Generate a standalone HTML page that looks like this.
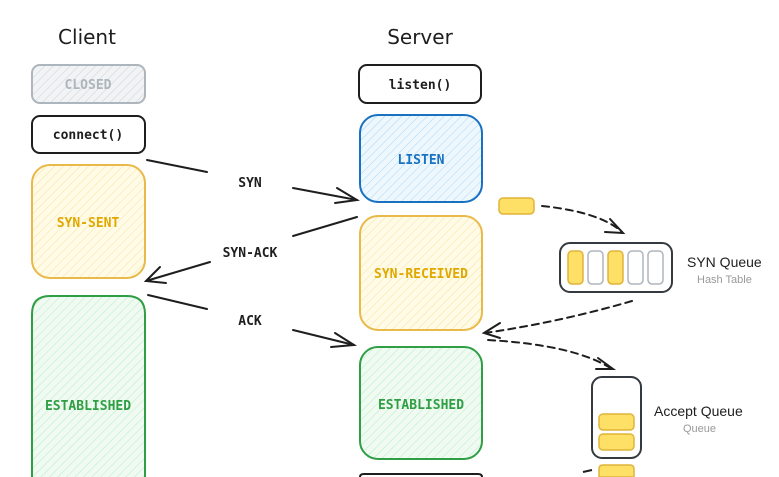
<!DOCTYPE html>
<html><head><meta charset="utf-8"><style>
html,body{margin:0;padding:0;background:#fff;width:779px;height:477px;overflow:hidden;}
svg{display:block;}
.m{font-family:"DejaVu Sans Mono","Liberation Mono",monospace;font-size:13px;font-weight:600;}
.h{font-family:"Liberation Sans",sans-serif;}
</style></head><body>
<svg width="779" height="477" viewBox="0 0 779 477" xmlns="http://www.w3.org/2000/svg">
<defs>
<pattern id="hg" width="6" height="6" patternUnits="userSpaceOnUse" patternTransform="rotate(45)"><rect width="6" height="6" fill="#f1f3f5"/><line x1="0" y1="0" x2="0" y2="6" stroke="#ced4da" stroke-width="1"/></pattern>
<pattern id="hb" width="6" height="6" patternUnits="userSpaceOnUse" patternTransform="rotate(45)"><rect width="6" height="6" fill="#eef7fb"/><line x1="0" y1="0" x2="0" y2="6" stroke="#a5d8ff" stroke-width="1"/></pattern>
<pattern id="hy" width="6" height="6" patternUnits="userSpaceOnUse" patternTransform="rotate(45)"><rect width="6" height="6" fill="#fffbe6"/><line x1="0" y1="0" x2="0" y2="6" stroke="#f3e3a0" stroke-width="1"/></pattern>
<pattern id="hgr" width="6" height="6" patternUnits="userSpaceOnUse" patternTransform="rotate(45)"><rect width="6" height="6" fill="#f0faf3"/><line x1="0" y1="0" x2="0" y2="6" stroke="#b2f2bb" stroke-width="1"/></pattern>
</defs>
<text x="87" y="44" text-anchor="middle" font-family="'Comic Sans MS','DejaVu Sans',sans-serif" font-size="20" fill="#1e1e1e">Client</text>
<text x="420" y="44" text-anchor="middle" font-family="'Comic Sans MS','DejaVu Sans',sans-serif" font-size="20" fill="#1e1e1e">Server</text>

<rect x="32" y="65" width="113" height="38" rx="8" fill="url(#hg)" stroke="#adb5bd" stroke-width="2"/>
<text x="88" y="89" text-anchor="middle" class="m" fill="#adb5bd">CLOSED</text>
<rect x="32" y="116" width="113" height="37" rx="8" fill="#fff" stroke="#1e1e1e" stroke-width="2"/>
<text x="88" y="139" text-anchor="middle" class="m" fill="#1e1e1e">connect()</text>
<rect x="32" y="165" width="113" height="113" rx="18" fill="url(#hy)" stroke="#e9b949" stroke-width="2"/>
<text x="88" y="227" text-anchor="middle" class="m" fill="#e0a800">SYN-SENT</text>
<path d="M32,477 V314 Q32,296 50,296 H127 Q145,296 145,314 V477" fill="url(#hgr)" stroke="#2f9e44" stroke-width="2"/>
<text x="88" y="410" text-anchor="middle" class="m" fill="#2f9e44">ESTABLISHED</text>

<rect x="359" y="65" width="122" height="38" rx="8" fill="#fff" stroke="#1e1e1e" stroke-width="2"/>
<text x="420" y="89" text-anchor="middle" class="m" fill="#1e1e1e">listen()</text>
<rect x="360" y="115" width="122" height="87" rx="18" fill="url(#hb)" stroke="#1971c2" stroke-width="2"/>
<text x="421" y="164" text-anchor="middle" class="m" fill="#1971c2">LISTEN</text>
<rect x="360" y="216" width="122" height="114" rx="18" fill="url(#hy)" stroke="#e9b949" stroke-width="2"/>
<text x="421" y="278" text-anchor="middle" class="m" fill="#e0a800">SYN-RECEIVED</text>
<rect x="360" y="347" width="122" height="112" rx="18" fill="url(#hgr)" stroke="#2f9e44" stroke-width="2"/>
<text x="421" y="409" text-anchor="middle" class="m" fill="#2f9e44">ESTABLISHED</text>
<path d="M360,477 Q360,474 364,474 H478 Q482,474 482,477" fill="none" stroke="#1e1e1e" stroke-width="2"/>

<g stroke="#1e1e1e" stroke-width="2" fill="none" stroke-linecap="round">
<line x1="147" y1="160" x2="207" y2="172"/><line x1="293" y1="188" x2="357" y2="200"/>
<polyline points="337,188 357,200 335,203"/>
<line x1="357" y1="217" x2="293" y2="236"/><line x1="210" y1="262" x2="146" y2="281"/>
<polyline points="160,267 146,281 166,283"/>
<line x1="148" y1="295" x2="207" y2="309"/><line x1="293" y1="330" x2="354" y2="345"/>
<polyline points="335,333 354,345 331,347"/>
</g>
<text x="250" y="187" text-anchor="middle" class="m" font-weight="normal" fill="#1e1e1e">SYN</text>
<text x="250" y="257" text-anchor="middle" class="m" font-weight="normal" fill="#1e1e1e">SYN-ACK</text>
<text x="250" y="325" text-anchor="middle" class="m" font-weight="normal" fill="#1e1e1e">ACK</text>

<rect x="499" y="198" width="35" height="16" rx="4" fill="#ffe066" stroke="#e0b43a" stroke-width="1.5"/>
<g stroke="#1e1e1e" stroke-width="2" fill="none" stroke-dasharray="7,5" stroke-linecap="round">
<path d="M542,206 Q600,212 622,232"/>
<path d="M632,301 Q560,322 485,333"/>
<path d="M488,340 Q575,345 612,369"/>
</g>
<g stroke="#1e1e1e" stroke-width="2" fill="none" stroke-linecap="round">
<polyline points="610,219 623,233 605,232"/>
<polyline points="500,323 484,333 500,338"/>
<polyline points="598,358 613,369 596,369"/>
</g>
<rect x="560" y="243" width="112" height="49" rx="10" fill="#fff" stroke="#343a40" stroke-width="2"/>
<g stroke-width="1.5">
<rect x="568" y="251" width="15" height="33" rx="4" fill="#ffe066" stroke="#e0b43a"/>
<rect x="588" y="251" width="15" height="33" rx="4" fill="#fff" stroke="#adb5bd"/>
<rect x="608" y="251" width="15" height="33" rx="4" fill="#ffe066" stroke="#e0b43a"/>
<rect x="628" y="251" width="15" height="33" rx="4" fill="#fff" stroke="#adb5bd"/>
<rect x="648" y="251" width="15" height="33" rx="4" fill="#fff" stroke="#adb5bd"/>
</g>
<text x="687" y="267" class="h" font-size="14" fill="#1e1e1e">SYN Queue</text>
<text x="697" y="283" class="h" font-size="11" fill="#999">Hash Table</text>

<rect x="592" y="377" width="49" height="81" rx="10" fill="#fff" stroke="#343a40" stroke-width="2"/>
<g stroke-width="1.5" fill="#ffe066" stroke="#e0b43a">
<rect x="599" y="414" width="35" height="16" rx="4"/>
<rect x="599" y="434" width="35" height="16" rx="4"/>
<path d="M599,477 V469 Q599,465 603,465 H630 Q634,465 634,469 V477 Z"/>
</g>
<line x1="583" y1="472" x2="592" y2="470" stroke="#1e1e1e" stroke-width="2"/>
<text x="654" y="416" class="h" font-size="14" fill="#1e1e1e">Accept Queue</text>
<text x="683" y="432" class="h" font-size="11" fill="#999">Queue</text>
</svg>
</body></html>
